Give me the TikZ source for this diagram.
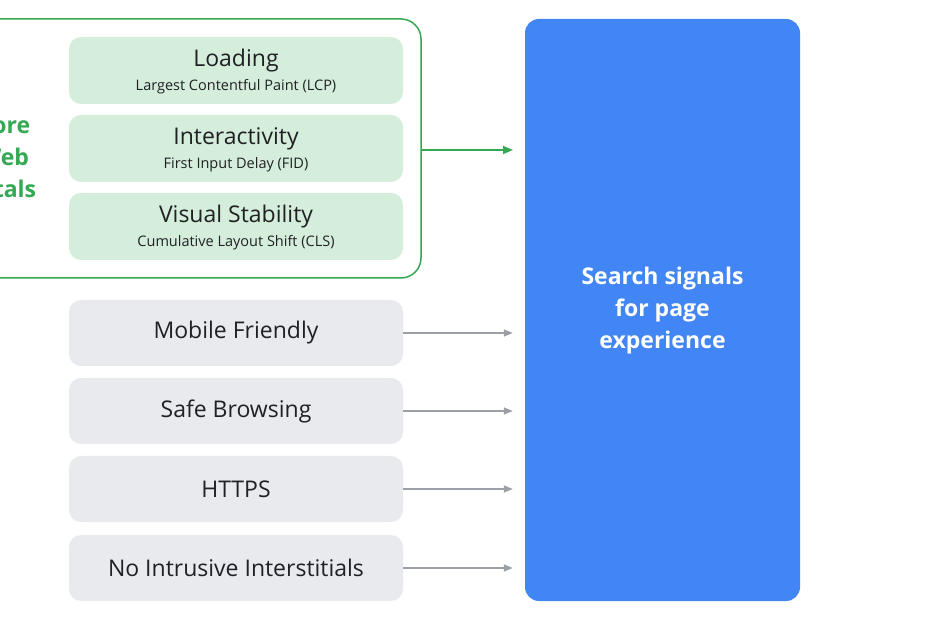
\documentclass[tikz,border=0pt]{standalone}
\usepackage{fontspec}
\setmainfont{Open Sans}
\usetikzlibrary{arrows.meta}
\definecolor{gfr}{HTML}{34A853}
\definecolor{gfill}{HTML}{D5EDDB}
\definecolor{grayfill}{HTML}{E8EAED}
\definecolor{garr}{HTML}{9AA0A6}
\definecolor{gblue}{HTML}{4285F4}
\definecolor{txt}{HTML}{202124}
\begin{document}
\begin{tikzpicture}[x=1pt,y=-1pt,
  vbox/.style={fill=gfill,rounded corners=12pt},
  gbox/.style={fill=grayfill,rounded corners=12pt},
  ttl/.style={font=\fontsize{23}{26}\selectfont,text=txt},
  sub/.style={font=\fontsize{14.5}{16}\selectfont,text=txt},
  garrow/.style={draw=garr,line width=1.3pt,-{Triangle[length=9pt,width=7pt]}},
  grarrow/.style={draw=gfr,line width=1.5pt,-{Triangle[length=10pt,width=8pt]}}]
\useasboundingbox (0,0) rectangle (930,620);
\clip (0,0) rectangle (930,620);
\draw[gfr,line width=1.5pt,rounded corners=20pt] (-40,19) rectangle (421,278);
\coordinate (frameR) at (421,150);
\coordinate (greenEnd) at (513,150);
\node[text=gfr,font=\bfseries\fontsize{23}{32}\selectfont,align=center] (cwv) at (4,157) {Core\\Web\\Vitals};
\foreach \n/\y/\t/\s in {l/37/Loading/Largest Contentful Paint (LCP),i/115/Interactivity/First Input Delay (FID),v/193/Visual Stability/Cumulative Layout Shift (CLS)}{
  \path[vbox] (69,\y) rectangle (403,\y+67);
  \node[ttl] (\n t) at (236,\y+24) {\t};
  \node[sub] (\n s) at (236,\y+50) {\s};
}
\foreach \n/\y/\t in {m/300/Mobile Friendly,s/378/Safe Browsing,h/456/HTTPS,n/535/No Intrusive Interstitials}{
  \node[gbox,minimum width=334pt,minimum height=66pt,inner sep=0pt,ttl] (\n) at (236,\y+33) {\t};
}
\node[fill=gblue,rounded corners=14pt,minimum width=275pt,minimum height=582pt,inner sep=0pt] (blue) at (662.5,310) {};
\node[text=white,font=\bfseries\fontsize{23}{32}\selectfont,align=center] (bt) at (662.5,311) {Search signals\\for page\\experience};
\draw[grarrow] (frameR) -- (greenEnd);
\foreach \n in {m,s,h,n}{
  \draw[garrow] (\n.east) -- ([xshift=-12pt]blue.west |- \n.east);
}
\end{tikzpicture}
\end{document}
